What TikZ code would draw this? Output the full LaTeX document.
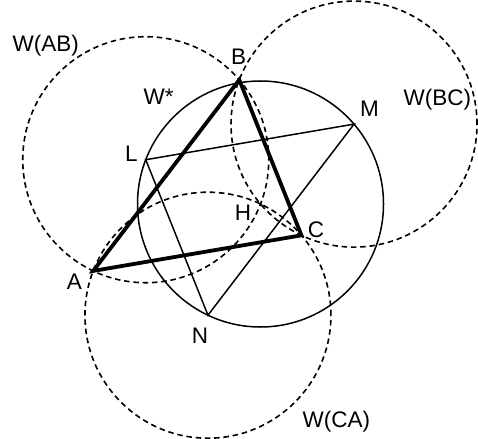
\documentclass[tikz,border=0pt]{standalone}
\usepackage{fontspec}
\setmainfont{Liberation Sans}
\usetikzlibrary{calc}
\begin{document}
\begin{tikzpicture}[x=1pt,y=-1pt,
  thinline/.style={line width=1.5pt},
  thickline/.style={line width=3.8pt, line join=miter},
  dashcircle/.style={line width=1.6pt, dash pattern=on 5.5pt off 3.8pt},
  lbl/.style={inner sep=0pt, font=\fontsize{22.5}{23}\selectfont}]
\useasboundingbox (0,0) rectangle (478,438);
\def\R{123pt}
\coordinate (H) at (260.5,204);
\coordinate (L) at ($(H)+(158.9:\R)$);
\coordinate (M) at ($(H)+(40.5:\R)$);
\coordinate (N) at ($(H)+(244.7:\R)$);
\coordinate (A) at ($(L)+(N)-(H)$);
\coordinate (B) at ($(L)+(M)-(H)$);
\coordinate (C) at ($(M)+(N)-(H)$);
% dashed circles
\draw[dashcircle] (L) circle[radius=\R];
\draw[dashcircle] (M) circle[radius=\R];
\draw[dashcircle] (N) circle[radius=\R];
% W*
\draw[thinline] (H) circle[radius=\R];
% triangle LMN
\draw[thinline] (L) -- (M) -- (N) -- cycle;
% triangle ABC
\draw[thickline] (A) -- (B) -- (C) -- cycle;
\fill (H) circle[radius=1.4pt];
% labels
\node[lbl, anchor=base west] (tAB) at (12.5,51.5) {W(AB)};
\node[lbl, anchor=base west] (tW) at (143.5,105) {W*};
\node[lbl, anchor=base west] (tBC) at (403.5,105.5) {W(BC)};
\node[lbl, anchor=base west] (tCA) at (302.5,427) {W(CA)};
\node[lbl, anchor=base] (tL) at (131.5,162) {L};
\node[lbl, anchor=base] (tB) at (238.5,65) {B};
\node[lbl, anchor=base] (tM) at (369.5,117) {M};
\node[lbl, anchor=base] (tH) at (243,220) {H};
\node[lbl, anchor=base] (tC) at (316,237) {C};
\node[lbl, anchor=base] (tA) at (74.5,289) {A};
\node[lbl, anchor=base] (tN) at (200,343) {N};
\end{tikzpicture}
\end{document}
